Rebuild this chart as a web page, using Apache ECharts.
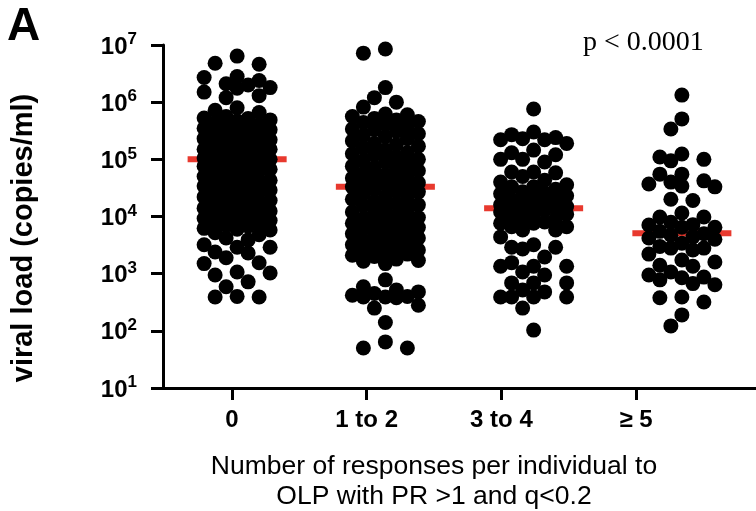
<!DOCTYPE html>
<html>
<head>
<meta charset="utf-8">
<script src="https://cdn.jsdelivr.net/npm/echarts@6/dist/echarts.min.js"></script>
<style>
html, body { margin: 0; padding: 0; background: #fff; }
#main { width: 756px; height: 511px; }
</style>
</head>
<body>
<div id="main"></div>
<script>
// categories on the x axis
var categories = ['0', '1 to 2', '3 to 4', '\u2265 5'];

// viral load (copies/ml) per group (dense middles estimated)
var group0 = [
    6.4e6, 4.8e6, 4.6e6, 2.8e6, 2.7e6, 2.4e6, 2.1e6, 2.0e6, 1.8e6, 1.75e6, 1.5e6, 1.3e6, 1.2e6, 8.0e5, 7.2e5, 6.6e5,
    5.6e5, 5.3e5, 5.2e5, 4.7e5, 4.4e5, 4.0e5, 3.6e5, 3.5e5, 3.3e5, 3.0e5, 2.7e5, 2.6e5, 2.3e5, 2.3e5, 2.1e5,
    1.9e5, 1.8e5, 1.6e5, 1.5e5, 1.5e5, 1.35e5, 1.25e5, 1.15e5, 1.05e5, 1.0e5, 1.0e5, 9.4e4, 8.6e4, 7.8e4, 7.3e4,
    6.7e4, 6.4e4, 5.8e4, 5.3e4, 4.9e4, 4.3e4, 4.2e4, 3.8e4, 3.5e4, 3.2e4, 2.9e4, 2.8e4, 2.5e4, 2.3e4, 2.1e4,
    1.9e4, 1.8e4, 1.65e4, 1.5e4, 1.4e4, 1.25e4, 1.2e4, 1.1e4, 1.0e4, 9.2e3, 8.5e3, 7.7e3, 7.4e3, 6.8e3, 6.2e3,
    4.9e5, 3.8e5, 2.9e5, 2.2e5, 1.7e5, 1.3e5, 1.1e5, 9.0e4, 7.6e4, 6.2e4, 5.0e4, 4.0e4, 3.4e4, 2.7e4, 2.2e4,
    1.7e4, 1.35e4, 1.05e4, 8.8e3, 7.0e3, 6.0e3,
    5.8e3, 5.2e3, 4.8e3, 4.2e3, 3.9e3, 3.2e3, 2.9e3, 2.9e3, 2.4e3, 2.3e3, 1.9e3, 1.55e3, 1.5e3, 1.07e3, 1.03e3,
    9.5e2, 7.2e2, 5.9e2, 4.0e2, 3.9e2, 3.9e2
];
var group1 = [
    8.5e6, 7.2e6, 1.8e6, 1.2e6, 1.0e6, 8.2e5, 6.2e5, 6.0e5,
    5.6e5, 5.2e5, 4.9e5, 4.4e5, 4.1e5, 3.7e5, 3.3e5, 3.1e5, 2.8e5, 2.5e5, 2.3e5, 2.1e5, 1.9e5, 1.7e5, 1.6e5,
    1.45e5, 1.3e5, 1.2e5, 1.1e5, 1.0e5, 9.0e4, 8.2e4, 7.6e4, 6.8e4, 6.3e4, 5.7e4, 5.2e4, 4.7e4, 4.3e4, 3.9e4,
    3.6e4, 3.3e4, 3.3e4, 3.0e4, 2.7e4, 2.5e4, 2.2e4, 2.0e4, 1.85e4, 1.7e4, 1.55e4, 1.4e4, 1.3e4, 1.15e4, 1.05e4,
    9.6e3, 8.8e3, 8.0e3, 7.3e3, 6.7e3, 6.1e3, 5.5e3, 5.0e3, 4.6e3, 4.2e3, 3.8e3, 3.5e3, 3.2e3, 2.9e3, 2.6e3,
    2.4e3, 2.2e3, 2.0e3, 1.8e3, 1.65e3, 1.5e3,
    4.6e5, 3.4e5, 2.6e5, 1.8e5, 1.25e5, 9.5e4, 7.2e4, 5.4e4, 4.5e4, 3.7e4, 2.8e4, 2.1e4, 1.6e4, 1.2e4, 9.2e3,
    7.6e3, 6.4e3, 5.2e3, 4.4e3, 3.6e3, 3.0e3, 2.5e3, 2.1e3, 1.7e3,
    7.8e2, 5.9e2, 5.2e2, 4.8e2, 4.5e2, 4.2e2, 4.0e2, 3.9e2, 3.9e2, 3.8e2, 2.8e2, 2.5e2, 1.4e2, 64, 50, 50
];
var group2 = [
    7.6e5, 3.0e5, 2.7e5, 2.4e5, 2.3e5, 2.2e5, 2.2e5, 1.9e5, 1.45e5, 1.3e5, 1.2e5, 1.0e5, 1.0e5, 9.0e4,
    6.0e4, 6.0e4, 5.8e4, 5.0e4, 4.3e4, 4.0e4, 3.6e4, 3.3e4, 3.3e4, 3.0e4, 2.7e4, 2.5e4, 2.2e4, 2.0e4, 1.9e4,
    1.7e4, 1.5e4, 1.4e4, 1.4e4, 1.3e4, 1.2e4, 1.1e4, 1.0e4, 9.0e3, 8.5e3, 8.0e3, 7.6e3, 7.6e3, 6.6e3, 6.6e3,
    2.6e4, 2.3e4, 1.8e4, 1.6e4, 1.5e4, 1.3e4, 1.1e4,
    5.8e3, 5.8e3, 4.4e3, 3.2e3, 2.9e3, 2.9e3, 2.7e3, 1.96e3, 1.56e3, 1.35e3, 1.35e3, 1.35e3, 1.07e3, 9.5e2,
    6.9e2, 6.9e2, 6.9e2, 5.2e2, 4.8e2, 3.9e2, 3.9e2, 3.9e2, 3.9e2, 2.5e2, 1.03e2
];
var group3 = [
    1.33e6, 5.1e5, 3.4e5, 1.24e5, 1.1e5, 1.0e5, 9.4e4, 5.5e4, 5.5e4, 4.2e4, 4.0e4, 3.7e4, 3.4e4, 3.3e4,
    2.0e4, 1.9e4, 1.15e4, 9.8e3, 9.8e3, 7.9e3, 7.2e3, 7.1e3, 6.5e3, 6.5e3, 5.5e3, 5.0e3, 4.7e3, 4.4e3, 4.2e3,
    4.0e3, 3.4e3, 3.0e3, 2.8e3, 2.8e3, 2.6e3, 2.2e3, 1.73e3, 1.6e3, 1.4e3, 1.35e3, 1.07e3, 9.5e2, 8.7e2,
    8.5e2, 7.8e2, 6.7e2, 6.4e2, 3.9e2, 3.8e2, 3.2e2, 1.9e2, 1.22e2
];
var groups = [group0, group1, group2, group3];

// medians (red bars)
var medians = [1.0e5, 3.3e4, 1.4e4, 5.1e3];

var FONT = '"Liberation Sans", Arial, Helvetica, sans-serif';
var chart = echarts.init(document.getElementById('main'));

chart.setOption({
    animation: false,
    backgroundColor: '#fff',
    grid: {left: 163, right: 0, top: 45, bottom: 123, containLabel: false},
    xAxis: [{
        // visible axis with the category ticks
        type: 'value',
        min: -0.512,
        max: 3.89,
        splitLine: {show: false},
        axisLine: {onZero: false, lineStyle: {color: '#000', width: 3}},
        axisTick: {length: 12, lineStyle: {color: '#000', width: 3}, customValues: [0, 1, 2, 3]},
        axisLabel: {
            customValues: [0, 1, 2, 3],
            margin: 20,
            color: '#000',
            fontFamily: FONT,
            fontWeight: 'bold',
            fontSize: 24,
            formatter: function (v) { return categories[Math.round(v)]; }
        }
    }, {
        // hidden axis the dots are placed on
        type: 'value',
        min: -0.5,
        max: 3.5,
        show: false,
        axisLine: {onZero: false},
        splitLine: {show: false}
    }],
    yAxis: {
        type: 'log',
        logBase: 10,
        min: 10,
        max: 1e7,
        splitLine: {show: false},
        axisLine: {show: true, onZero: false, lineStyle: {color: '#000', width: 3}},
        axisTick: {show: true, length: 12, lineStyle: {color: '#000', width: 3}},
        axisLabel: {
            margin: 26,
            formatter: function (v) {
                return '{b|10}{s|' + Math.round(Math.log10(v)) + '}';
            },
            rich: {
                b: {fontFamily: FONT, fontWeight: 'bold', fontSize: 24, color: '#000', lineHeight: 28, verticalAlign: 'bottom'},
                s: {fontFamily: FONT, fontWeight: 'bold', fontSize: 17, color: '#000', lineHeight: 17, verticalAlign: 'top'}
            }
        }
    },
    graphic: [
        {type: 'text', x: 7, y: 27, style: {text: 'A', font: 'bold 46px ' + FONT, fill: '#000', verticalAlign: 'middle'}},
        {type: 'text', x: 583, y: 43, style: {text: 'p < 0.0001', font: '28px "Liberation Serif", "Times New Roman", serif', fill: '#000', verticalAlign: 'middle'}},
        {type: 'text', x: 24, y: 238, rotation: Math.PI / 2,
            style: {text: 'viral load (copies/ml)', font: 'bold 29px ' + FONT, fill: '#000', align: 'center', verticalAlign: 'middle'}},
        {type: 'text', x: 434, y: 482,
            style: {text: 'Number of responses per individual to\nOLP with PR >1 and q<0.2', font: '26.5px ' + FONT,
                fill: '#000', align: 'center', verticalAlign: 'middle', lineHeight: 30}}
    ],
    series: []
});

// simple column beeswarm: dots go into 7 slots, overlapping when a row is full
var slots = [0, -11, 11, -22, 22, -33, 33];
var GAP = 14.5;

function swarm(vals, g) {
    var finder = {xAxisIndex: 1, yAxisIndex: 0};
    var sorted = vals.slice().sort(function (a, b) { return b - a; });
    var unit = chart.convertToPixel(finder, [g + 1, 1e3])[0] - chart.convertToPixel(finder, [g, 1e3])[0];
    var placed = [];
    var out = [];
    sorted.forEach(function (v) {
        var y = chart.convertToPixel(finder, [g, v])[1];
        var dist = slots.map(function (dx) {
            var dmin = Infinity;
            placed.forEach(function (p) {
                var d = Math.sqrt((p[0] - dx) * (p[0] - dx) + (p[1] - y) * (p[1] - y));
                if (d < dmin) dmin = d;
            });
            return dmin;
        });
        var pick = -1;
        for (var k = 0; k < slots.length && pick < 0; k++) {
            if (k > 0 && k % 2 === 1) {
                // pair of slots at the same distance from the middle
                var a = dist[k] >= GAP, b = dist[k + 1] >= GAP;
                if (a && b) pick = dist[k] >= dist[k + 1] ? k : k + 1;
                else if (a) pick = k;
                else if (b) pick = k + 1;
                k++;
            } else if (dist[k] >= GAP) {
                pick = k;
            }
        }
        if (pick < 0) {
            pick = 0;
            for (var j = 1; j < slots.length; j++) {
                if (dist[j] > dist[pick] + 0.5) pick = j;
            }
        }
        placed.push([slots[pick], y]);
        out.push([g + slots[pick] / unit, v]);
    });
    return out;
}

var dots = [];
groups.forEach(function (vals, g) { dots = dots.concat(swarm(vals, g)); });

chart.setOption({
    series: [{
        type: 'custom',
        xAxisIndex: 1,
        yAxisIndex: 0,
        z: 1,
        data: medians.map(function (m, g) { return [g, m]; }),
        renderItem: function (params, api) {
            var a = api.coord([api.value(0) - 0.334, api.value(1)]);
            var b = api.coord([api.value(0) + 0.334, api.value(1)]);
            return {
                type: 'line',
                shape: {x1: a[0], y1: a[1], x2: b[0], y2: b[1]},
                style: {stroke: '#e8392e', lineWidth: 6}
            };
        }
    }, {
        type: 'scatter',
        xAxisIndex: 1,
        yAxisIndex: 0,
        z: 2,
        symbolSize: 15,
        itemStyle: {color: '#000', opacity: 1},
        data: dots
    }]
});
</script>
</body>
</html>
